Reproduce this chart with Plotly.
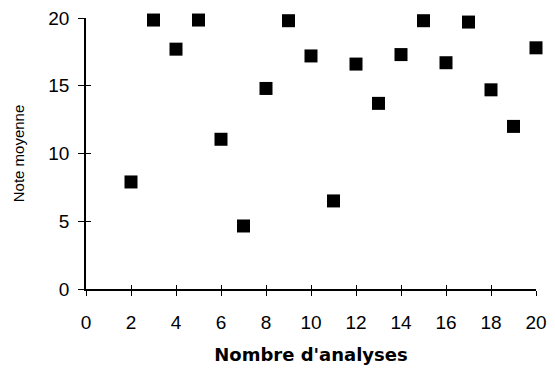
import plotly.graph_objects as go

# values
nb_analyses = [2, 3, 4, 5, 6, 7, 8, 9, 10, 11, 12, 13, 14, 15, 16, 17, 18, 19, 20]
note_moyenne = [7.9, 19.85, 17.7, 19.85, 11.05, 4.65, 14.8, 19.8, 17.2, 6.5,
                16.6, 13.7, 17.3, 19.8, 16.7, 19.7, 14.7, 12.0, 17.8]

x_ticks = list(range(0, 21, 2))
y_ticks = [0, 5, 10, 15, 20]

font_name = "Liberation Sans, Arial, sans-serif"

fig = go.Figure()

fig.add_trace(go.Scatter(
    x=nb_analyses,
    y=note_moyenne,
    mode="markers",
    marker=dict(symbol="square", size=13, color="black"),
    cliponaxis=False,
    showlegend=False,
))

# invisible trace on the overlay axes so the inside ticks get drawn
fig.add_trace(go.Scatter(
    x=[0], y=[0], xaxis="x2", yaxis="y2",
    mode="markers", marker=dict(opacity=0), showlegend=False, hoverinfo="skip",
))

# the page body adds an 8px offset, margins are shifted to compensate
fig.update_layout(
    width=555,
    height=372,
    margin=dict(l=78, r=27, t=10, b=91, autoexpand=False),
    plot_bgcolor="white",
    paper_bgcolor="white",
    font=dict(family=font_name, color="black"),
    xaxis=dict(
        range=[0, 20],
        tickvals=x_ticks,
        ticks="outside",
        ticklen=5,
        tickcolor="black",
        showline=True,
        linecolor="black",
        linewidth=1.5,
        showgrid=False,
        zeroline=False,
        automargin=False,
        tickfont=dict(size=19),
        ticklabelstandoff=10,
        ticklabeloverflow="allow",
        title=dict(
            text="<b>Nombre d'analyses</b>",
            font=dict(family="DejaVu Sans, sans-serif", size=18),
            standoff=17,
        ),
    ),
    yaxis=dict(
        range=[0, 20],
        tickvals=y_ticks,
        ticks="outside",
        ticklen=6,
        tickcolor="black",
        showline=True,
        linecolor="black",
        linewidth=1.5,
        showgrid=False,
        zeroline=False,
        automargin=False,
        tickfont=dict(size=19),
        ticklabelstandoff=5,
        ticklabeloverflow="allow",
        title=dict(text="Note moyenne", font=dict(size=15), standoff=20),
    ),
    xaxis2=dict(
        overlaying="x",
        range=[0, 20],
        tickvals=x_ticks,
        ticks="inside",
        ticklen=4,
        tickcolor="black",
        showticklabels=False,
        showgrid=False,
        zeroline=False,
        automargin=False,
        anchor="y2",
        side="bottom",
    ),
    yaxis2=dict(
        overlaying="y",
        range=[0, 20],
        tickvals=y_ticks,
        ticks="inside",
        ticklen=5,
        tickcolor="black",
        showticklabels=False,
        showgrid=False,
        zeroline=False,
        automargin=False,
        anchor="x2",
        side="left",
    ),
)

fig.write_html("out.html")
